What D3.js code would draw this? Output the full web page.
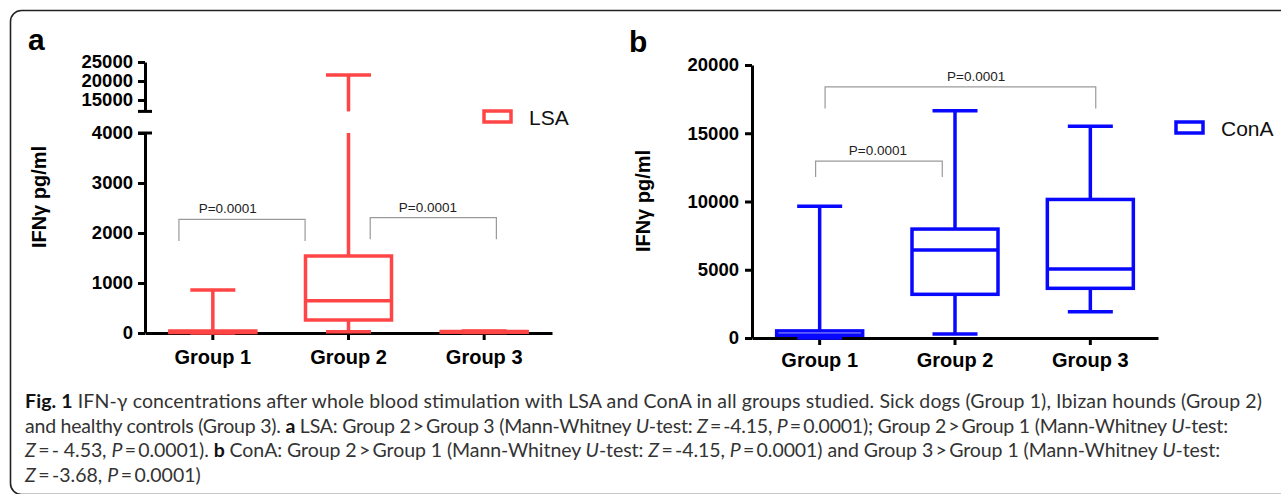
<!DOCTYPE html>
<html>
<head>
<meta charset="utf-8">
<script src="https://cdn.jsdelivr.net/npm/d3@7"></script>
<style>
  body { margin: 0; background: #fff; }
  svg { display: block; }
  .tick text { font-family: "Liberation Sans", Arial, sans-serif; font-weight: bold; }
</style>
</head>
<body>
<svg id="chart" width="1281" height="494"></svg>
<script>
//------------------------------------------------------------
// Data
const groups = ["Group 1", "Group 2", "Group 3"];

// five-number summaries: [min, q1, median, q3, max]
const lsaBoxes = [
  [0, 10, 20, 40, 860],
  [25, 260, 645, 1540, 21600],
  [10, 15, 20, 30, 40]
];
const conaBoxes = [
  [0, 200, 200, 520, 9650],
  [290, 3200, 6440, 7980, 16640],
  [1930, 3640, 5050, 10150, 15520]
];

const lsaLowTicks = [0, 1000, 2000, 3000, 4000];
const lsaHighTicks = [15000, 20000, 25000];
const lsaBreak = [4000, 12000];
const conaTicks = [0, 5000, 10000, 15000, 20000];

// brackets: ends and label centre in group units (0 = Group 1), heights in pg/ml
const lsaBrackets = [
  { from: -0.25, to: 0.68, low: 1840, high: 2274, at: 0.11, label: "P=0.0001" },
  { from: 1.16, to: 2.09, low: 1874, high: 2306, at: 1.585, label: "P=0.0001" }
];
const conaBrackets = [
  { from: -0.03, to: 0.906, low: 11800, high: 12960, at: 0.43, label: "P=0.0001" },
  { from: 0.04, to: 2.04, low: 16815, high: 18400, at: 1.156, label: "P=0.0001" }
];

const caption = [
  [["Fig. 1", "b"], [" IFN-\u03b3 concentrations after whole blood stimulation with LSA and ConA in all groups studied. Sick dogs (Group 1), Ibizan hounds (Group 2)"]],
  [["and healthy controls (Group 3). "], ["a", "b"], [" LSA: Group 2\u2009>\u2009Group 3 (Mann-Whitney "], ["U", "i"], ["-test: "], ["Z", "i"], ["\u2009=\u2009-4.15, "], ["P", "i"], ["\u2009=\u20090.0001); Group 2\u2009>\u2009Group 1 (Mann-Whitney "], ["U", "i"], ["-test:"]],
  [["Z", "i"], ["\u2009=\u2009- 4.53, "], ["P", "i"], ["\u2009=\u20090.0001). "], ["b", "b"], [" ConA: Group 2\u2009>\u2009Group 1 (Mann-Whitney "], ["U", "i"], ["-test: "], ["Z", "i"], ["\u2009=\u2009-4.15, "], ["P", "i"], ["\u2009=\u20090.0001) and Group 3\u2009>\u2009Group 1 (Mann-Whitney "], ["U", "i"], ["-test:"]],
  [["Z", "i"], ["\u2009=\u2009-3.68, "], ["P", "i"], ["\u2009=\u20090.0001)"]]
];
// right end of each full caption line, px (last line keeps its own width)
const captionEnds = [1262, 1228, 1220, null];

//------------------------------------------------------------
const svg = d3.select("#chart");
const FONT = '"Liberation Sans", Arial, sans-serif';
const RED = "#ff4545";
const BLUE = "#0808ff";

// frame
svg.append("rect")
  .attr("x", 10.5).attr("y", 10.5)
  .attr("width", 1300).attr("height", 484)
  .attr("rx", 11)
  .attr("fill", "none")
  .attr("stroke", "#222")
  .attr("stroke-width", 1.6);

function styleAxis(ax) {
  ax.select(".domain").attr("stroke", "#000").attr("stroke-width", 3);
  ax.selectAll(".tick line").attr("stroke", "#000").attr("stroke-width", 3);
  ax.selectAll(".tick text").attr("fill", "#000");
}

function drawBoxes(g, data, x, y, segs, color) {
  const bw = 86, cw = 45;
  const b = g.selectAll("g.box")
    .data(data)
    .join("g")
    .attr("class", "box")
    .attr("transform", (d, i) => `translate(${x(groups[i]) + x.bandwidth() / 2},0)`)
    .attr("fill", "none")
    .attr("stroke", color)
    .attr("stroke-width", 3.5);

  b.each(function(d) {
    const s = d3.select(this);
    const [mn, q1, md, q3, mx] = d;
    // whiskers
    segs(q3, mx).concat(segs(mn, q1)).forEach(([y0, y1]) => {
      s.append("line").attr("x1", 0).attr("x2", 0).attr("y1", y0).attr("y2", y1);
    });
    [mn, mx].forEach(v => {
      s.append("line").attr("x1", -cw / 2).attr("x2", cw / 2).attr("y1", y(v)).attr("y2", y(v));
    });
    s.append("rect")
      .attr("x", -bw / 2).attr("width", bw)
      .attr("y", y(q3)).attr("height", Math.max(0.5, y(q1) - y(q3)))
      .attr("fill", "#fff");
    s.append("line").attr("x1", -bw / 2).attr("x2", bw / 2).attr("y1", y(md)).attr("y2", y(md));
  });
}

function drawBrackets(g, data, xg, y) {
  data.forEach(d => {
    g.append("path")
      .attr("d", `M${xg(d.from)},${y(d.low)}V${y(d.high)}H${xg(d.to)}V${y(d.low)}`)
      .attr("fill", "none")
      .attr("stroke", "#9a9a9a")
      .attr("stroke-width", 1.2);
    g.append("text")
      .attr("x", xg(d.at))
      .attr("y", y(d.high) - 6)
      .attr("text-anchor", "middle")
      .attr("font-family", FONT)
      .attr("font-size", 13.5)
      .attr("fill", "#222")
      .text(d.label);
  });
}

function legend(g, x, y, label, color) {
  g.append("rect")
    .attr("x", x).attr("y", y - 6)
    .attr("width", 27).attr("height", 11)
    .attr("fill", "none")
    .attr("stroke", color)
    .attr("stroke-width", 3.5);
  g.append("text")
    .attr("x", x + 45).attr("y", y)
    .attr("dy", "0.36em")
    .attr("font-family", FONT)
    .attr("font-size", 21)
    .attr("fill", "#111")
    .text(label);
}

function yTitle(g, x, y) {
  g.append("text")
    .attr("transform", `translate(${x},${y}) rotate(-90)`)
    .attr("text-anchor", "middle")
    .attr("font-family", FONT)
    .attr("font-weight", "bold")
    .attr("font-size", 20)
    .text("IFN\u03b3 pg/ml");
}

function panelLetter(g, x, y, t) {
  g.append("text")
    .attr("x", x).attr("y", y)
    .attr("font-family", FONT)
    .attr("font-weight", "bold")
    .attr("font-size", 30)
    .text(t);
}

//------------------------------------------------------------
// Panel a: LSA, broken y axis
const ga = svg.append("g");
const xa = d3.scaleBand().domain(groups).range([145, 552]);
const xaG = d3.scaleLinear().domain([-0.5, 2.5]).range([145, 552]);
const yLow = d3.scaleLinear().domain([0, 4000]).range([333, 133]);
const yTop = d3.scaleLinear().domain([lsaBreak[1], 25000]).range([111.4, 62]);
const ya = v => v <= lsaBreak[0] ? yLow(v) : yTop(v);
const segA = (a, b) => b <= lsaBreak[0]
  ? [[yLow(a), yLow(b)]]
  : [[yLow(a), yLow(lsaBreak[0])], [yTop(lsaBreak[1]), yTop(b)]];

const axLow = ga.append("g").attr("transform", "translate(145,0)")
  .call(d3.axisLeft(yLow).tickValues(lsaLowTicks).tickSize(7).tickSizeOuter(0).tickPadding(5).tickFormat(d3.format("d")));
const axTop = ga.append("g").attr("transform", "translate(145,0)")
  .call(d3.axisLeft(yTop).tickValues(lsaHighTicks).tickSize(7).tickSizeOuter(0).tickPadding(5).tickFormat(d3.format("d")));
[axLow, axTop].forEach(ax => {
  styleAxis(ax);
  ax.selectAll(".tick text").attr("font-size", 18.5);
});
// break caps
[yLow(lsaBreak[0]), yTop(lsaBreak[1])].forEach(yy => {
  ga.append("line")
    .attr("x1", 138).attr("x2", 152)
    .attr("y1", yy).attr("y2", yy)
    .attr("stroke", "#000").attr("stroke-width", 3);
});

const axXa = ga.append("g").attr("transform", `translate(0,${yLow(0)})`)
  .call(d3.axisBottom(xa).tickSize(7).tickSizeOuter(0).tickPadding(10));
styleAxis(axXa);
axXa.selectAll(".tick text").attr("font-size", 20);

drawBrackets(ga, lsaBrackets, xaG, yLow);
drawBoxes(ga, lsaBoxes, xa, ya, segA, RED);
legend(ga, 484, 117, "LSA", RED);
yTitle(ga, 46, 197);
panelLetter(ga, 28, 50, "a");

//------------------------------------------------------------
// Panel b: ConA
const gb = svg.append("g");
const xb = d3.scaleBand().domain(groups).range([752, 1158]);
const xbG = d3.scaleLinear().domain([-0.5, 2.5]).range([752, 1158]);
const yb = d3.scaleLinear().domain([0, 20000]).range([338, 65]);
const segB = (a, b) => [[yb(a), yb(b)]];

const axYb = gb.append("g").attr("transform", "translate(752,0)")
  .call(d3.axisLeft(yb).tickValues(conaTicks).tickSize(7).tickSizeOuter(0).tickPadding(6).tickFormat(d3.format("d")));
styleAxis(axYb);
axYb.selectAll(".tick text").attr("font-size", 18.5);

const axXb = gb.append("g").attr("transform", `translate(0,${yb(0)})`)
  .call(d3.axisBottom(xb).tickSize(7).tickSizeOuter(0).tickPadding(8));
styleAxis(axXb);
axXb.selectAll(".tick text").attr("font-size", 20);

drawBrackets(gb, conaBrackets, xbG, yb);
drawBoxes(gb, conaBoxes, xb, yb, segB, BLUE);
legend(gb, 1176, 128, "ConA", BLUE);
yTitle(gb, 650, 201);
panelLetter(gb, 629, 52, "b");

//------------------------------------------------------------
// Caption
const capX = 25;
const cap = svg.append("g")
  .attr("font-family", "Lato, 'Open Sans', sans-serif")
  .attr("font-size", 19.5)
  .attr("fill", "#333");

caption.forEach((line, i) => {
  const t = cap.append("text")
    .attr("x", capX)
    .attr("y", 408 + i * 24.5);
  if (captionEnds[i]) {
    t.attr("textLength", captionEnds[i] - capX).attr("lengthAdjust", "spacing");
  }
  line.forEach(([txt, st]) => {
    t.append("tspan")
      .attr("font-weight", st === "b" ? "bold" : null)
      .attr("font-style", st === "i" ? "italic" : null)
      .attr("fill", st === "b" ? "#111" : null)
      .text(txt);
  });
});
</script>
</body>
</html>
